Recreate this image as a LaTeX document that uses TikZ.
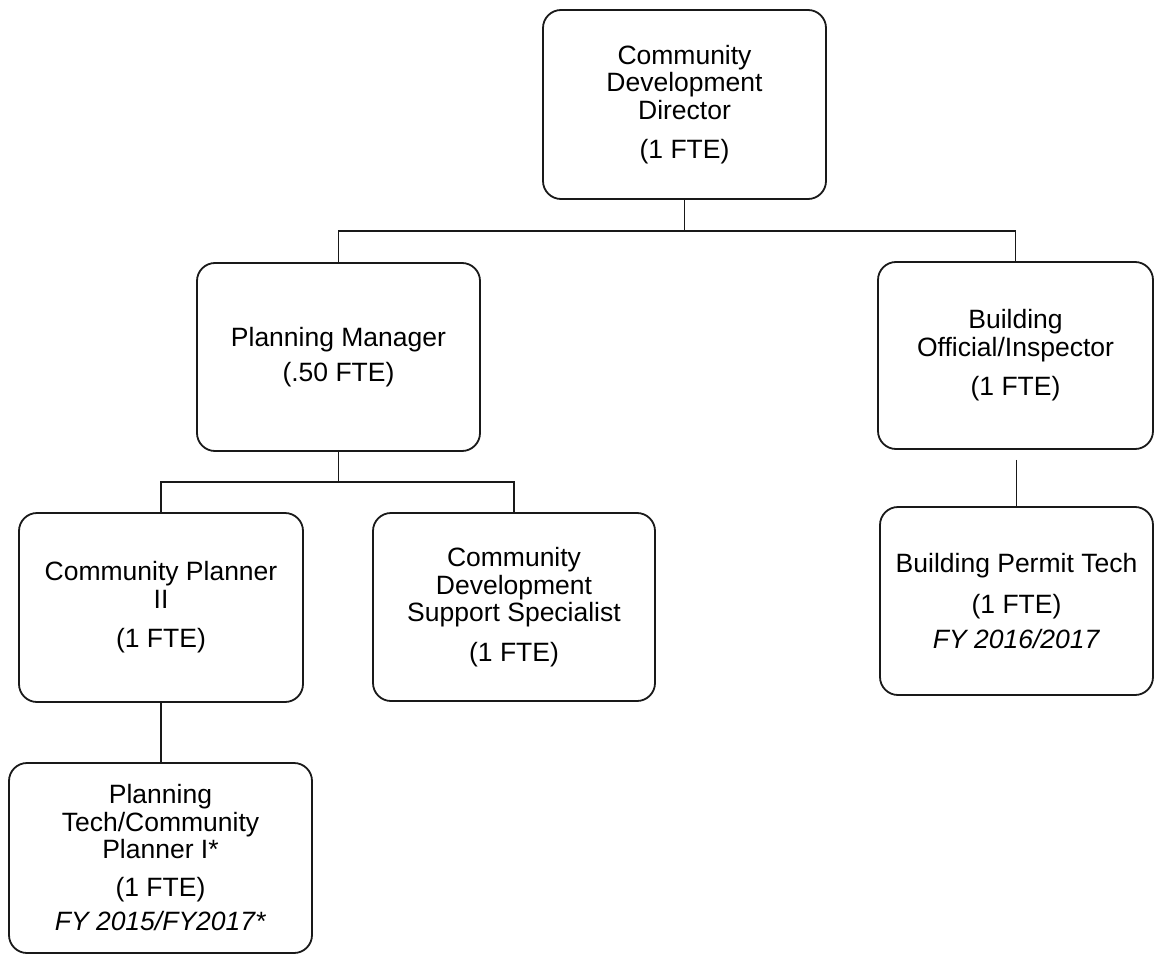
\documentclass[tikz,border=0pt]{standalone}
\usepackage{fontspec}
\setmainfont{Liberation Sans}
\begin{document}
\begin{tikzpicture}[x=1pt,y=-1pt,
		post/.style={draw=black!90,line width=1.8pt,rounded corners=18pt,align=center,inner sep=0pt,font=\fontsize{26.5}{27.5}\selectfont},
		link/.style={draw=black!90,line width=1.5pt}]
		\useasboundingbox (0,0) rectangle (1154,955);

		\node[post,minimum width=283pt,minimum height=189pt] (dir) at (684.5,104.5) {Community\\Development\\Director\\[12pt](1 FTE)};

		\node[post,minimum width=283pt,minimum height=188pt] (pm) at (338.5,357) {Planning Manager\\[8pt](.50 FTE)};
		\node[post,minimum width=275pt,minimum height=187pt] (bo) at (1015.5,355.5) {Building\\Official/Inspector\\[12pt](1 FTE)};

		\node[post,minimum width=284pt,minimum height=189pt] (cp2) at (161,607.5) {Community Planner\\II\\[12pt](1 FTE)};
		\node[post,minimum width=282pt,minimum height=188pt] (cdss) at (514,607) {Community\\Development\\Support Specialist\\[12pt](1 FTE)};
		\node[post,minimum width=273pt,minimum height=188pt] (bpt) at (1016.5,601) {Building Permit Tech\\[14pt](1 FTE)\\[7pt]\textit{FY 2016/2017}};

		\node[post,minimum width=303pt,minimum height=190pt] (pt) at (160.5,858) {Planning\\Tech/Community\\Planner I*\\[10pt](1 FTE)\\[7pt]\textit{FY 2015/FY2017*}};

		\draw[link] (dir.south) -- ++(0,31) -| (pm.north);
		\draw[link] (dir.south) -- ++(0,31) -| (bo.north);
		\draw[link] (pm.south) -- ++(0,30) -| (cp2.north);
		\draw[link] (pm.south) -- ++(0,30) -| (cdss.north);
		\draw[link] (cp2.south) -- (cp2.south |- pt.north);
		\draw[link] ([yshift=-10pt]bo.south -| bpt.north) -- (bpt.north);
	\end{tikzpicture}
\end{document}
